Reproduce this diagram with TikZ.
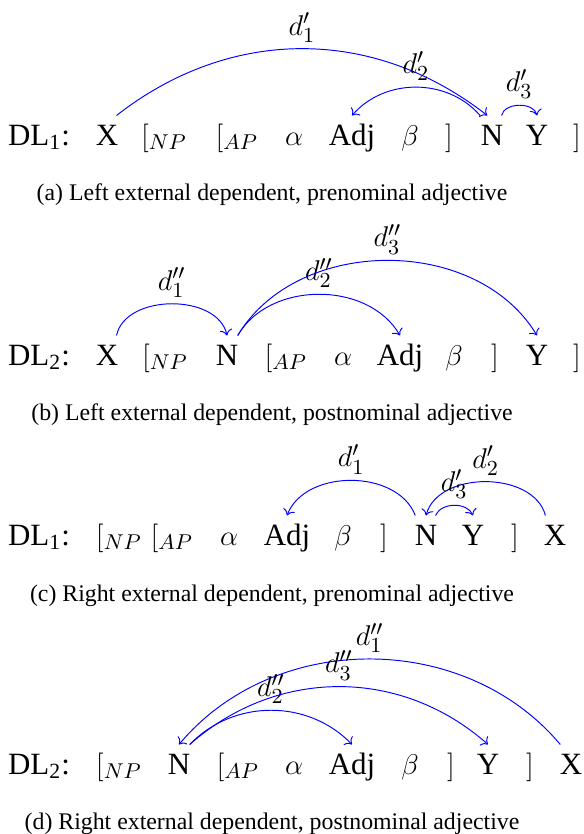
\documentclass[tikz,border=0pt]{standalone}
\usepackage{fontspec}
\setmainfont{Liberation Serif}
\usetikzlibrary{arrows.meta}
\tikzset{
  dl/word/.style={anchor=base, inner xsep=1pt, inner ysep=4.2pt, text height=8pt, text depth=2.5pt, font=\fontsize{13}{15}\selectfont},
  dl/arc/.style={blue, -{To}},
  dl/lbl/.style={midway, above, text=black, font=\fontsize{13}{15}\selectfont, inner sep=2.5pt},
  dl/caption/.style={anchor=base, font=\normalsize}
}

\begin{document}
\begin{tikzpicture}[x=0.42pt, y=-0.42pt]
  \useasboundingbox (0,0) rectangle (584,834);

  % (a) left external dependent, prenominal adjective
  \foreach \n/\x/\t in {dl/39/{DL\textsubscript{1}:}, X/107/X, np/164/{$[_{NP}$}, ap/237/{$[_{AP}$},
      al/294/{$\alpha$}, Adj/352/Adj, be/410/{$\beta$}, rc/449/{$]$}, N/492/N, Y/537/Y, rn/577/{$]$}}
    \node[dl/word] (a\n) at (\x,145) {\t};
  \draw[dl/arc] ([xshift=4pt]aX.north) to[bend left=38] node[dl/lbl] {$d'_1$} ([xshift=-2pt]aN.north);
  \draw[dl/arc] ([xshift=-5pt]aN.north) to[bend right=49] node[dl/lbl] {$d'_2$} (aAdj.north);
  \draw[dl/arc] ([xshift=4pt]aN.north) to[bend left=77] node[dl/lbl] {$d'_3$} (aY.north);
  \node[dl/caption] (capa) at (272,200) {(a) Left external dependent, prenominal adjective};

  % (b) left external dependent, postnominal adjective
  \foreach \n/\x/\t in {dl/39/{DL\textsubscript{2}:}, X/107/X, np/165/{$[_{NP}$}, N/227/N, ap/286/{$[_{AP}$},
      al/343/{$\alpha$}, Adj/400/Adj, be/454/{$\beta$}, rc/495/{$]$}, Y/537/Y, rn/577/{$]$}}
    \node[dl/word] (b\n) at (\x,365) {\t};
  \draw[dl/arc] ([xshift=4pt]bX.north) to[bend left=78] node[dl/lbl] {$d''_1$} (bN.north);
  \draw[dl/arc] ([xshift=4.5pt]bN.north) to[bend left=60] node[dl/lbl] {$d''_2$} (bAdj.north);
  \draw[dl/arc] ([xshift=4.5pt]bN.north) to[bend left=59] node[dl/lbl] {$d''_3$} (bY.north);
  \node[dl/caption] (capb) at (272,420) {(b) Left external dependent, postnominal adjective};

  % (c) right external dependent, prenominal adjective
  \foreach \n/\x/\t in {dl/39/{DL\textsubscript{1}:}, np/119/{$[_{NP}$}, ap/172/{$[_{AP}$}, al/229/{$\alpha$},
      Adj/287/Adj, be/343/{$\beta$}, rc/384/{$]$}, N/426/N, Y/473/Y, rn/515/{$]$}, X/555/X}
    \node[dl/word] (c\n) at (\x,545) {\t};
  \draw[dl/arc] ([xshift=-4.5pt]cN.north) to[bend right=69] node[dl/lbl] {$d'_1$} (cAdj.north);
  \draw[dl/arc] ([xshift=-4pt]cX.north) to[bend right=75] node[dl/lbl] {$d'_2$} (cN.north);
  \draw[dl/arc] ([xshift=4pt]cN.north) to[bend left=67] node[dl/lbl] {$d'_3$} (cY.north);
  \node[dl/caption] (capc) at (272,601) {(c) Right external dependent, prenominal adjective};

  % (d) right external dependent, postnominal adjective
  \foreach \n/\x/\t in {dl/39/{DL\textsubscript{2}:}, np/119/{$[_{NP}$}, N/179/N, ap/238/{$[_{AP}$},
      al/294/{$\alpha$}, Adj/352/Adj, be/410/{$\beta$}, rc/451/{$]$}, Y/488/Y, rn/530/{$]$}, X/571/X}
    \node[dl/word] (d\n) at (\x,774) {\t};
  \draw[dl/arc] ([xshift=-4.5pt]dX.north) to[bend right=50] node[dl/lbl] {$d''_1$} (dN.north);
  \draw[dl/arc] ([xshift=4.5pt]dN.north) to[bend left=46] node[dl/lbl] {$d''_2$} (dAdj.north);
  \draw[dl/arc] ([xshift=4.5pt]dN.north) to[bend left=41.5] node[dl/lbl] {$d''_3$} (dY.north);
  \node[dl/caption] (capd) at (272,829) {(d) Right external dependent, postnominal adjective};
\end{tikzpicture}
\end{document}
